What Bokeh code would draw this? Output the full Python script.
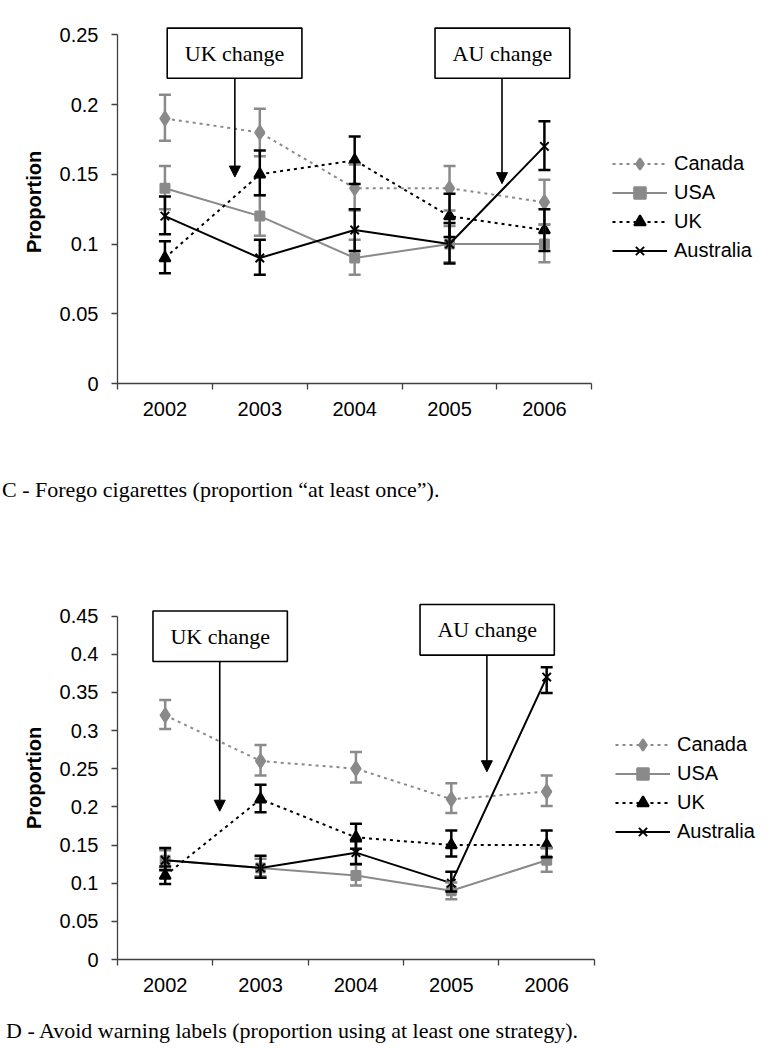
from bokeh.plotting import figure
from bokeh.layouts import column
from bokeh.models import (ColumnDataSource, Range1d, FixedTicker, Whisker, TeeHead,
                          Legend, LegendItem, Arrow, NormalHead, Label, Div)
from bokeh.embed import file_html
from bokeh.resources import INLINE

# ---------------- data ----------------
years = ["2002", "2003", "2004", "2005", "2006"]
countries = ["Canada", "USA", "UK", "Australia"]

# Panel C - Forego cigarettes
c_canada = [0.19, 0.18, 0.14, 0.14, 0.13]
c_canada_lo = [0.174, 0.163, 0.124, 0.124, 0.114]
c_canada_hi = [0.207, 0.197, 0.157, 0.156, 0.146]
c_usa = [0.14, 0.12, 0.09, 0.10, 0.10]
c_usa_lo = [0.125, 0.106, 0.078, 0.087, 0.087]
c_usa_hi = [0.156, 0.135, 0.103, 0.113, 0.114]
c_uk = [0.09, 0.15, 0.16, 0.12, 0.11]
c_uk_lo = [0.079, 0.135, 0.143, 0.105, 0.095]
c_uk_hi = [0.102, 0.167, 0.177, 0.136, 0.125]
c_aus = [0.12, 0.09, 0.11, 0.10, 0.17]
c_aus_lo = [0.107, 0.078, 0.095, 0.086, 0.153]
c_aus_hi = [0.134, 0.103, 0.125, 0.115, 0.188]

# Panel D - Avoid warning labels
d_canada = [0.32, 0.26, 0.25, 0.21, 0.22]
d_canada_lo = [0.302, 0.241, 0.232, 0.192, 0.201]
d_canada_hi = [0.340, 0.281, 0.272, 0.231, 0.241]
d_usa = [0.13, 0.12, 0.11, 0.09, 0.13]
d_usa_lo = [0.118, 0.109, 0.097, 0.079, 0.115]
d_usa_hi = [0.143, 0.132, 0.124, 0.101, 0.146]
d_uk = [0.11, 0.21, 0.16, 0.15, 0.15]
d_uk_lo = [0.099, 0.193, 0.145, 0.135, 0.134]
d_uk_hi = [0.122, 0.229, 0.178, 0.169, 0.169]
d_aus = [0.13, 0.12, 0.14, 0.10, 0.37]
d_aus_lo = [0.117, 0.107, 0.125, 0.089, 0.349]
d_aus_hi = [0.146, 0.136, 0.155, 0.115, 0.383]

caption_c = "C - Forego cigarettes (proportion \u201cat least once\u201d)."
caption_d = "D - Avoid warning labels (proportion using at least one strategy)."

# ---------------- styles ----------------
SANS = "Liberation Sans"
SERIF = "Liberation Serif"
GRAY = "#8a8a8a"
AXIS = "#404040"
STYLE = {
    "Canada": dict(color=GRAY, dash="3 4", marker="diamond", size=14),
    "USA": dict(color=GRAY, dash="solid", marker="square", size=9),
    "UK": dict(color="black", dash="3 4", marker="triangle", size=11),
    "Australia": dict(color="black", dash="solid", marker="x", size=12),
}

W = 761


def make_panel(series, ytop, ystep, ppx, ppy, left_border, top_border, frame_h, fig_h,
               boxes, legend_xy):
    frame_w = W - left_border
    p = figure(width=W, height=fig_h, output_backend="svg", toolbar_location=None,
               x_range=Range1d(0, frame_w / ppx), y_range=Range1d(0, frame_h / ppy),
               min_border_left=left_border, min_border_right=0,
               min_border_top=top_border, min_border_bottom=fig_h - top_border - frame_h)
    p.xgrid.visible = False
    p.ygrid.visible = False
    p.outline_line_color = None
    p.background_fill_color = "white"

    n = len(years)
    xs = [i + 0.5 for i in range(n)]

    # x axis
    xa = p.xaxis[0]
    xa.ticker = FixedTicker(ticks=xs, minor_ticks=list(range(n + 1)))
    xa.major_label_overrides = {x: y for x, y in zip(xs, years)}
    xa.bounds = (0, n)
    xa.major_tick_out = 0
    xa.major_tick_in = 0
    xa.minor_tick_out = 6
    xa.minor_tick_in = 0
    xa.major_label_standoff = 12
    # y axis
    ya = p.yaxis[0]
    nt = int(round(ytop / ystep))
    yt = [round(k * ystep, 2) for k in range(nt + 1)]
    ya.ticker = FixedTicker(ticks=yt)
    ya.major_label_overrides = {t: f"{t:g}" for t in yt}
    ya.bounds = (0, ytop)
    ya.major_tick_out = 6
    ya.major_tick_in = 0
    ya.minor_tick_out = 0
    ya.minor_tick_in = 0
    ya.major_label_standoff = 13
    ya.axis_label = "Proportion"
    ya.axis_label_text_font = SANS
    ya.axis_label_text_font_style = "bold"
    ya.axis_label_text_font_size = "20px"
    ya.axis_label_text_color = "black"
    ya.axis_label_standoff = 12
    for ax in (xa, ya):
        ax.axis_line_color = AXIS
        ax.axis_line_width = 1.3
        ax.major_tick_line_color = AXIS
        ax.minor_tick_line_color = AXIS
        ax.major_tick_line_width = 1.3
        ax.minor_tick_line_width = 1.3
        ax.major_label_text_font = SANS
        ax.major_label_text_font_size = "20px"
        ax.major_label_text_color = "black"

    items = []
    for name in countries:
        vals, lo, hi = series[name]
        st = STYLE[name]
        src = ColumnDataSource(dict(x=xs, y=vals, lo=lo, hi=hi))
        rl = p.line("x", "y", source=src, line_color=st["color"], line_width=2,
                    line_dash=st["dash"])
        wk = Whisker(base="x", upper="hi", lower="lo", source=src,
                     line_color=st["color"], line_width=2.5, level="glyph",
                     upper_head=TeeHead(size=12, line_color=st["color"], line_width=2.5),
                     lower_head=TeeHead(size=12, line_color=st["color"], line_width=2.5))
        p.add_layout(wk)
        rm = p.scatter("x", "y", source=src, marker=st["marker"], size=st["size"],
                       fill_color=st["color"], line_color=st["color"], line_width=2)
        items.append(LegendItem(label=name, renderers=[rl, rm]))

    leg = Legend(items=items, location=legend_xy, glyph_width=55, glyph_height=29,
                 label_height=29, spacing=0, padding=0, margin=0, label_standoff=7,
                 border_line_color=None, background_fill_alpha=0,
                 label_text_font=SANS, label_text_font_size="20px",
                 label_text_color="black")
    p.add_layout(leg)

    for (text, l, r, b, t, ax_x, tip_y) in boxes:
        p.quad(left=[l], right=[r], bottom=[b], top=[t], fill_color="white",
               line_color="black", line_width=1.6)
        p.add_layout(Label(x=(l + r) / 2, y=(b + t) / 2, text=text, text_align="center",
                           text_baseline="middle", text_font=SERIF,
                           text_font_size="22px", text_color="black"))
        p.add_layout(Arrow(x_start=ax_x, y_start=b, x_end=ax_x, y_end=tip_y,
                           line_color="black", line_width=1.6,
                           end=NormalHead(size=11, fill_color="black", line_color="black")))
    return p


def caption_div(text, top_margin, height, left_margin):
    return Div(text=text, width=W - left_margin, height=height,
               margin=(top_margin, 0, 0, left_margin),
               styles={"font-family": SERIF, "font-size": "22px", "line-height": "22px",
                       "color": "black", "white-space": "nowrap"})


series_c = {
    "Canada": (c_canada, c_canada_lo, c_canada_hi),
    "USA": (c_usa, c_usa_lo, c_usa_hi),
    "UK": (c_uk, c_uk_lo, c_uk_hi),
    "Australia": (c_aus, c_aus_lo, c_aus_hi),
}
series_d = {
    "Canada": (d_canada, d_canada_lo, d_canada_hi),
    "USA": (d_usa, d_usa_lo, d_usa_hi),
    "UK": (d_uk, d_uk_lo, d_uk_hi),
    "Australia": (d_aus, d_aus_lo, d_aus_hi),
}

boxes_c = [
    ("UK change", 0.524, 1.944, 0.2188, 0.2548, 1.237, 0.148),
    ("AU change", 3.347, 4.767, 0.2188, 0.2548, 4.053, 0.1433),
]
boxes_d = [
    ("UK change", 0.372, 1.781, 0.3904, 0.4566, 1.072, 0.1943),
    ("AU change", 3.172, 4.580, 0.3988, 0.4650, 3.873, 0.2460),
]

# frame C: left 117, top 20, bottom 383
pc = make_panel(series_c, 0.25, 0.05, 94.87, 1394.8, 117, 20, 363, 445,
                boxes_c, (495, 118))
cap_c = caption_div(caption_c, 34, 49, 2)
# frame D: left 115, top 596, bottom 959
pd_ = make_panel(series_d, 0.45, 0.05, 95.67, 763.3, 115, 68, 363, 483,
                 boxes_d, (498, 113))
cap_d = caption_div(caption_d, 9, 22, 6)

layout = column(pc, cap_c, pd_, cap_d, spacing=0)
open("out.html", "w").write(file_html(layout, INLINE))
